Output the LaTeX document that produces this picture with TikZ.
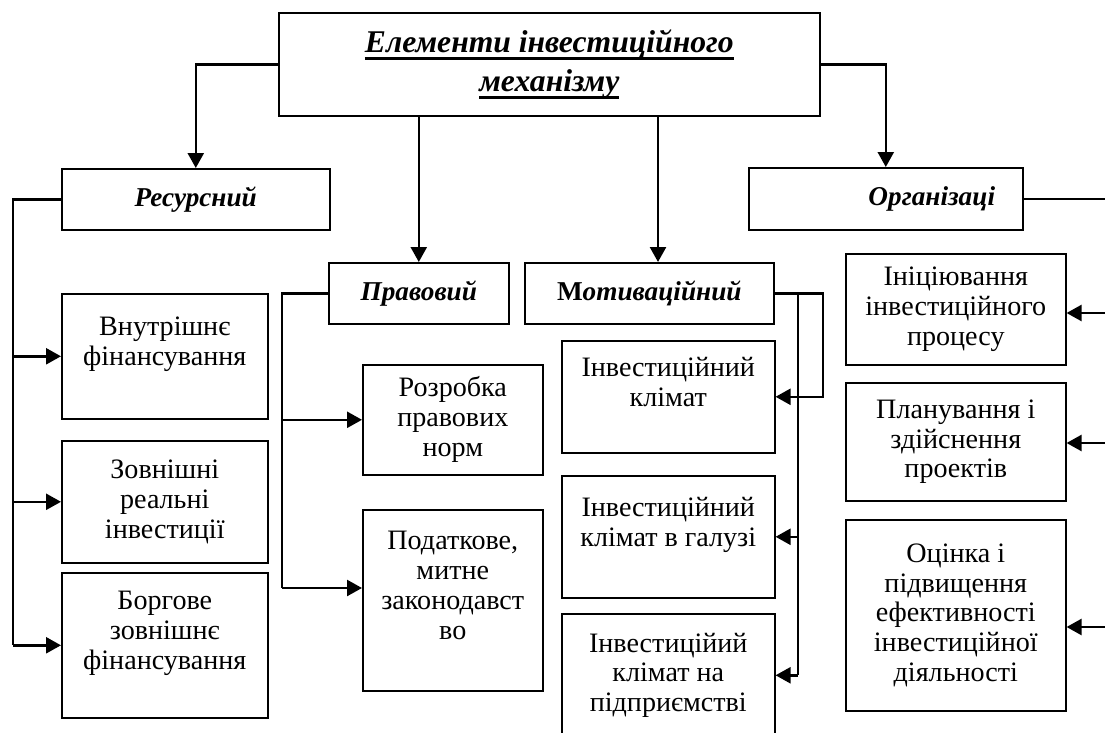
\documentclass[tikz,border=0pt]{standalone}
\usepackage{fontspec}
\setmainfont{Liberation Serif}
\usetikzlibrary{arrows.meta}

\newcommand{\thickul}[1]{\setbox0=\hbox{#1}\leavevmode\rlap{\rule[-0.14cm]{\wd0}{1.4pt}}\box0}

\tikzset{
  box/.style={draw, line width=0.9pt, inner sep=0pt, align=center, anchor=north west,
    font=\fontsize{16}{17}\selectfont},
  head/.style={box, font=\fontsize{15.5}{18}\selectfont\bfseries\itshape},
  cell/.style 2 args={minimum width=#1*0.02cm, minimum height=#2*0.02cm},
  link/.style={line width=1.4pt},
  arr/.style={link, -{Triangle[length=0.3cm, width=0.32cm]}}
}

\begin{document}
\begin{tikzpicture}[x=0.02cm, y=-0.02cm]
	\useasboundingbox (0,0) rectangle (1105,733);

	% top box
	\node [box, cell={541}{103}, font=\fontsize{18}{22}\selectfont\bfseries\itshape] (main) at (278,12)
		{\thickul{Елементи інвестиційного}\\\thickul{механізму}};

	% four elements
	\node [head, cell={268}{61}] (res) at (61,168) {Ресурсний};
	\node [head, cell={180}{61}] (prav) at (328,262) {Правовий};
	\node [head, cell={249}{61}] (mot) at (524,262) {\textup{М}отиваційний};
	\node [head, cell={274}{62}] (org) at (748,167) {\hspace*{1.84cm}Організаці};

	% resource items
	\node [box, cell={206}{125}] (vnut) at (61,293) {Внутрішнє\\фінансування\\~};
	\node [box, cell={206}{122}] (zovn) at (61,440) {Зовнішні\\реальні\\інвестиції};
	\node [box, cell={206}{145}] (borg) at (61,572) {Боргове\\зовнішнє\\фінансування\\~};

	% legal items
	\node [box, cell={180}{110}] (rozr) at (362,364) {Розробка\\правових\\норм};
	\node [box, cell={180}{181}] (podat) at (362,509) {Податкове,\\митне\\законодавст\\во\\~};

	% motivation items
	\node [box, cell={213}{112}] (klim) at (561,340) {Інвестиційний\\клімат\\~};
	\node [box, cell={213}{122}] (galuz) at (561,475) {Інвестиційний\\клімат в галузі\\~};
	\node [box, cell={213}{123}] (pidpr) at (561,613) {Інвестиційий\\клімат на\\підприємстві};

	% organisation items
	\node [box, cell={220}{111}] (inic) at (845,253) {Ініціювання\\інвестиційного\\процесу};
	\node [box, cell={220}{118}] (plan) at (845,382) {Планування і\\здійснення\\проектів};
	\node [box, cell={220}{191}] (ocin) at (845,519) {Оцінка і\\підвищення\\ефективності\\інвестиційної\\діяльності};

	\coordinate (resbus) at (13,0);
	\coordinate (pravbus) at (282,0);
	\coordinate (motbus) at (798,0);
	\coordinate (orgbus) at (1112,0);

	% from the top box
	\draw [arr] (main.west) -| (res.north);
	\draw [arr] (main.east) -| (org.north);
	\draw [arr] (main.south -| prav.north) -- (prav.north);
	\draw [arr] (main.south -| 658,0) -- (mot.north -| 658,0);

	% resource
	\draw [link] (res.west) -| (resbus |- borg.west);
	\foreach \n in {vnut, zovn, borg}
	{
		\draw [arr] (resbus |- \n.west) -- (\n.west);
	}

	% legal
	\draw [link] (prav.west) -| (pravbus |- 0,588);
	\draw [arr] (pravbus |- rozr.west) -- (rozr.west);
	\draw [arr] (pravbus |- 0,588) -- (podat.west |- 0,588);

	% motivation
	\draw [arr] (mot.east) -- (823,0 |- mot.east) |- (klim.east);
	\draw [link] (motbus |- mot.east) -- (motbus |- pidpr.east);
	\foreach \n in {galuz, pidpr}
	{
		\draw [arr] (motbus |- \n.east) -- (\n.east);
	}

	% organisation
	\draw [link] (org.east) -- (orgbus |- org.east);
	\foreach \n/\y in {inic/313, plan/443, ocin/627}
	{
		\draw [arr] (orgbus |- 0,\y) -- (\n.east |- 0,\y);
	}
\end{tikzpicture}
\end{document}
